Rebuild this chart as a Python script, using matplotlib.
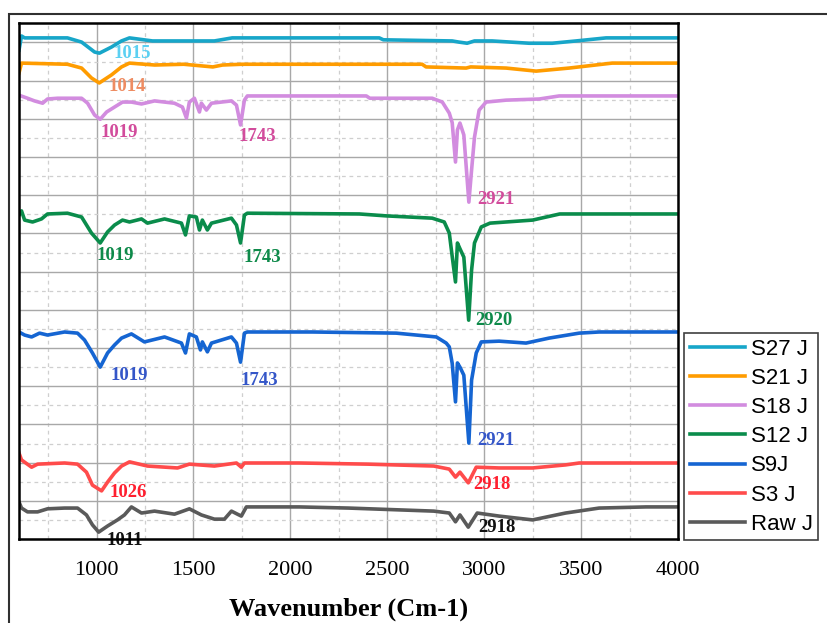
import matplotlib
matplotlib.use('Agg')
import matplotlib.pyplot as plt
from matplotlib.patches import Rectangle
from matplotlib.ticker import MultipleLocator

# spectra (stacked, arbitrary transmittance units)
s27_wn = [600, 613, 629, 850, 923, 990, 1015, 1077, 1129, 1170, 1289, 1608, 1700, 2459, 2480,
          2835, 2870, 2912, 2950, 3041, 3232, 3351, 3474, 3629, 4000]
s27_t = [12.80, 13.17, 13.12, 13.12, 13.01, 12.75, 12.72, 12.88, 13.04, 13.12, 13.04, 13.04, 13.12,
         13.12, 13.07, 13.04, 13.01, 12.98, 13.04, 13.04, 12.98, 12.98, 13.04, 13.12, 13.12]

s21_wn = [600, 613, 850, 923, 974, 1014, 1077, 1129, 1170, 1300, 1450, 1600, 1650, 1750, 2680,
          2700, 2907, 2930, 3113, 3268, 3438, 3660, 4000]
s21_t = [12.20, 12.46, 12.43, 12.33, 12.07, 11.94, 12.15, 12.36, 12.46, 12.41, 12.43, 12.36, 12.41,
         12.43, 12.43, 12.36, 12.33, 12.36, 12.33, 12.25, 12.33, 12.46, 12.46]

s18_wn = [600, 644, 680, 722, 747, 799, 923, 954, 990, 1019, 1052, 1093, 1134, 1180, 1232, 1299,
          1402, 1443, 1464, 1479, 1505, 1531, 1541, 1567, 1593, 1696, 1722, 1743, 1763, 1778,
          2392, 2410, 2732, 2784, 2820, 2835, 2852, 2862, 2875, 2895, 2921, 2935, 2950, 2974,
          3010, 3113, 3284, 3387, 4000]
s18_t = [11.62, 11.54, 11.47, 11.41, 11.52, 11.54, 11.54, 11.41, 11.10, 10.99, 11.18, 11.31, 11.44,
         11.44, 11.39, 11.47, 11.41, 11.31, 11.02, 11.44, 11.54, 11.18, 11.41, 11.23, 11.41, 11.47,
         11.36, 10.84, 11.49, 11.60, 11.60, 11.54, 11.54, 11.44, 11.15, 10.90, 9.87, 10.71, 10.89,
         10.58, 8.82, 9.66, 10.52, 11.23, 11.44, 11.49, 11.52, 11.60, 11.60]

s12_wn = [600, 613, 629, 670, 716, 747, 850, 923, 974, 1019, 1057, 1093, 1134, 1170, 1232, 1263,
          1351, 1438, 1459, 1479, 1515, 1531, 1546, 1572, 1593, 1696, 1722, 1743, 1763, 1778,
          2356, 2495, 2732, 2794, 2820, 2835, 2852, 2862, 2875, 2895, 2920, 2935, 2950, 2985,
          3030, 3250, 3390, 4000]
s12_t = [8.48, 8.59, 8.35, 8.30, 8.38, 8.51, 8.53, 8.43, 8.01, 7.75, 8.04, 8.22, 8.35, 8.30, 8.38,
         8.27, 8.38, 8.27, 7.96, 8.46, 8.43, 8.09, 8.35, 8.09, 8.27, 8.40, 8.22, 7.75, 8.48, 8.53,
         8.51, 8.46, 8.40, 8.30, 8.01, 7.40, 6.73, 7.75, 7.60, 7.38, 5.73, 7.04, 7.75, 8.17, 8.27,
         8.35, 8.51, 8.51]

s9_wn = [600, 629, 665, 706, 747, 835, 902, 938, 979, 1019, 1057, 1093, 1129, 1180, 1247, 1351,
         1438, 1459, 1479, 1515, 1536, 1546, 1572, 1593, 1696, 1722, 1743, 1763, 1778, 2114, 2546,
         2753, 2804, 2820, 2835, 2852, 2862, 2875, 2895, 2921, 2935, 2959, 2985, 3077, 3216, 3335,
         3490, 3593, 4000]
s9_t = [5.42, 5.34, 5.29, 5.39, 5.34, 5.42, 5.39, 5.21, 4.87, 4.50, 4.87, 5.08, 5.26, 5.37, 5.16,
        5.29, 5.13, 4.87, 5.37, 5.29, 4.95, 5.16, 4.90, 5.13, 5.29, 5.13, 4.63, 5.39, 5.42, 5.42,
        5.39, 5.29, 5.13, 5.03, 4.60, 3.59, 4.61, 4.50, 4.29, 2.51, 4.16, 4.87, 5.16, 5.18, 5.13,
        5.26, 5.39, 5.42, 5.42]

s3_wn = [600, 613, 665, 696, 835, 902, 948, 979, 1026, 1057, 1093, 1129, 1170, 1263, 1418, 1479,
         1608, 1722, 1747, 1763, 2046, 2400, 2740, 2820, 2852, 2875, 2918, 2959, 3077, 3250, 3420,
         3490, 4000]
s3_t = [2.25, 2.07, 1.88, 1.96, 1.99, 1.96, 1.75, 1.41, 1.26, 1.49, 1.73, 1.91, 2.02, 1.91, 1.86,
        1.96, 1.91, 1.99, 1.88, 1.99, 1.99, 1.96, 1.91, 1.83, 1.62, 1.75, 1.47, 1.88, 1.86, 1.86,
        1.94, 1.99, 1.99]

raw_wn = [600, 613, 644, 696, 747, 835, 902, 948, 979, 1011, 1057, 1108, 1144, 1180, 1232, 1299,
          1402, 1479, 1541, 1608, 1660, 1696, 1727, 1747, 1773, 2046, 2300, 2740, 2820, 2852,
          2875, 2918, 2964, 3077, 3250, 3420, 3593, 3835, 4000]
raw_t = [0.97, 0.81, 0.71, 0.71, 0.79, 0.81, 0.81, 0.63, 0.37, 0.18, 0.34, 0.50, 0.63, 0.84, 0.68,
         0.73, 0.65, 0.79, 0.63, 0.52, 0.52, 0.73, 0.65, 0.60, 0.84, 0.84, 0.81, 0.73, 0.68, 0.45,
         0.63, 0.31, 0.68, 0.60, 0.50, 0.68, 0.81, 0.84, 0.84]

series_names = ['S27 J', 'S21 J', 'S18 J', 'S12 J', 'S9J', 'S3 J', 'Raw J']
peak_labels = ['1015', '1014', '1019', '1743', '2921', '1019', '1743', '2920',
               '1019', '1743', '2921', '1026', '2918', '1011', '2918']

# --- drawing ---
fig = plt.figure(figsize=(8.27, 6.23), dpi=100)
W, H = 827.0, 623.0
ax = fig.add_axes([19 / W, 1 - 539 / H, (678 - 19) / W, (539 - 23) / H])

line_colors = ['#17A6C9', '#FF9C00', '#D28CDF', '#0A8C4B', '#1565D2', '#FF4B4B', '#5A5A5A']
all_wn = [s27_wn, s21_wn, s18_wn, s12_wn, s9_wn, s3_wn, raw_wn]
all_t = [s27_t, s21_t, s18_t, s12_t, s9_t, s3_t, raw_t]
for wn, t, name, c in zip(all_wn, all_t, series_names, line_colors):
    ax.plot(wn, t, color=c, lw=2.6, label=name, solid_joinstyle='round')

ax.set_xlim(600, 4000)
ax.set_ylim(0, 13.51)
ax.xaxis.set_major_locator(MultipleLocator(500))
ax.xaxis.set_minor_locator(MultipleLocator(250))
ax.yaxis.set_major_locator(MultipleLocator(1))
ax.yaxis.set_minor_locator(MultipleLocator(0.5))
ax.grid(which='major', color='#A8A8A8', lw=1.0)
ax.grid(which='minor', color='#CFCFCF', lw=0.9, linestyle=(0, (3, 3)))
ax.set_axisbelow(True)
ax.tick_params(which='both', length=0)
ax.tick_params(axis='x', pad=16, labelsize=16)
ax.set_yticklabels([])
for lab in ax.get_xticklabels():
    lab.set_fontfamily('Liberation Serif')
for sp in ax.spines.values():
    sp.set_linewidth(1.8)
    sp.set_color('black')

# peak labels
label_pos = [(1186, 12.70), (1160, 11.86), (1119, 10.65), (1830, 10.55), (3062, 8.90),
             (1098, 7.43), (1856, 7.38), (3052, 5.73), (1170, 4.27), (1840, 4.16),
             (3062, 2.57), (1165, 1.23), (3041, 1.44), (1144, -0.03), (3067, 0.29)]
label_colors = ['#5CD0F2', '#EE8C62', '#D24C9C', '#D24C9C', '#D24C9C',
                '#0E8A4A', '#0E8A4A', '#0E8A4A', '#3456C8', '#3456C8', '#3456C8',
                '#FF1F2F', '#FF1F2F', '#111111', '#111111']
for txt, (x, y), c in zip(peak_labels, label_pos, label_colors):
    ax.text(x, y, txt, color=c, fontsize=13.5, fontweight='bold', family='Liberation Serif',
            ha='center', va='center', clip_on=False, zorder=1)

leg = fig.legend(loc='upper left', bbox_to_anchor=(684 / W, 1 - 333 / H), frameon=True,
                 fancybox=False, framealpha=1, edgecolor='#404040',
                 prop={'family': 'Liberation Sans', 'size': 16}, handlelength=2.5,
                 handletextpad=0.25, labelspacing=0.37, borderpad=0.25, borderaxespad=0)
leg.get_frame().set_linewidth(1.2)

fig.text(349 / W, 1 - 609 / H, 'Wavenumber (Cm-1)', ha='center', va='center',
         family='Liberation Serif', fontweight='bold', fontsize=19)

# outer frame around the figure
fig.patches.append(Rectangle((9 / W, -0.1), 1.2, 1.1 - 14 / H, transform=fig.transFigure,
                             fill=False, edgecolor='#303030', lw=1.5))

fig.savefig('out.png', dpi=100)
